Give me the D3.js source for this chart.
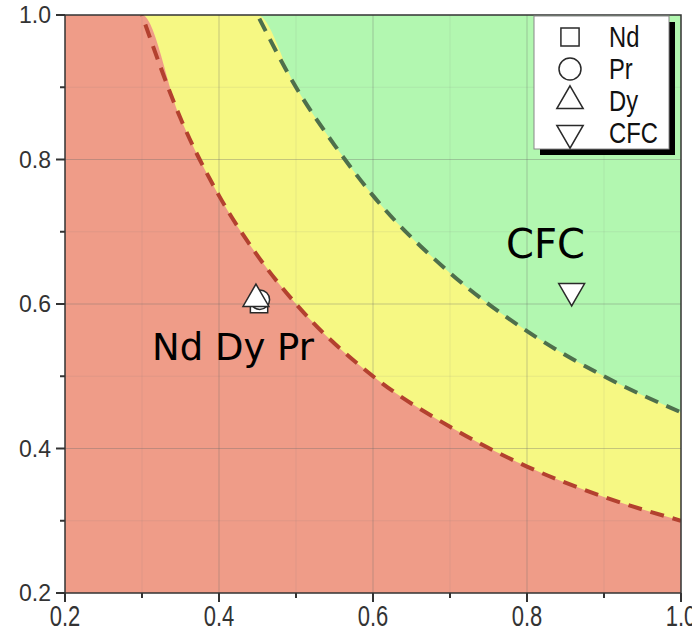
<!DOCTYPE html>
<html>
<head>
<meta charset="utf-8">
<script src="https://cdn.jsdelivr.net/npm/d3@7"></script>
<style>
  body { margin: 0; background: #fff; }
  svg { display: block; }
</style>
</head>
<body>
<div id="chart"></div>
<script>
// boundary curves
const redEdgeX = [0.30, 0.35, 0.40, 0.45, 0.50, 0.60, 0.70, 0.80, 0.90, 1.00]
const redEdgeY = [1.00, 0.857, 0.75, 0.667, 0.60, 0.50, 0.43, 0.375, 0.333, 0.30]
const greenEdgeX = [0.45, 0.50, 0.55, 0.60, 0.70, 0.80, 0.90, 1.00]
const greenEdgeY = [1.00, 0.90, 0.82, 0.75, 0.643, 0.5625, 0.50, 0.45]

// points
const pointNames = ['Nd', 'Pr', 'Dy', 'CFC']
const pointX = [0.452, 0.453, 0.448, 0.858]
const pointY = [0.600, 0.606, 0.607, 0.618]
const pointSymbols = [d3.symbolSquare, d3.symbolCircle, d3.symbolTriangle, d3.symbolTriangle]

const majorTicks = [0.2, 0.4, 0.6, 0.8, 1.0]
const minorTicks = [0.3, 0.5, 0.7, 0.9]

const width = 692, height = 632
const margin = { left: 65, right: 11, top: 15, bottom: 39 }

const svg = d3.select('#chart').append('svg')
    .attr('width', width)
    .attr('height', height)

const x = d3.scaleLinear().domain([0.2, 1.0]).range([margin.left, width - margin.right])
const y = d3.scaleLinear().domain([0.2, 1.0]).range([height - margin.bottom, margin.top])

svg.append('defs').append('clipPath').attr('id', 'plotclip')
    .append('rect')
    .attr('x', x(0.2)).attr('y', y(1.0))
    .attr('width', x(1.0) - x(0.2)).attr('height', y(0.2) - y(1.0))

const plot = svg.append('g').attr('clip-path', 'url(#plotclip)')

// green background
plot.append('rect')
    .attr('x', x(0.2)).attr('y', y(1.0))
    .attr('width', x(1.0) - x(0.2)).attr('height', y(0.2) - y(1.0))
    .attr('fill', '#b2f7b0')

const redEdge = redEdgeX.map((d, i) => [d, redEdgeY[i]])
const greenEdge = greenEdgeX.map((d, i) => [d, greenEdgeY[i]])

const area = d3.area()
    .x(d => x(d[0]))
    .y0(y(0.2))
    .y1(d => y(d[1]))
    .curve(d3.curveMonotoneX)

// yellow under the green edge, red under the red edge
plot.append('path')
    .datum([[0.2, 1.0]].concat(greenEdge))
    .attr('d', area)
    .attr('fill', '#f6f883')

plot.append('path')
    .datum([[0.2, 1.0]].concat(redEdge))
    .attr('d', area)
    .attr('fill', '#ef9c88')

// grid
plot.selectAll('.minor-grid-x')
    .data(minorTicks).enter().append('line')
    .attr('x1', d => x(d)).attr('x2', d => x(d))
    .attr('y1', y(0.2)).attr('y2', y(1.0))
    .attr('stroke', '#7a7a7a').attr('stroke-opacity', 0.12)
plot.selectAll('.minor-grid-y')
    .data(minorTicks).enter().append('line')
    .attr('y1', d => y(d)).attr('y2', d => y(d))
    .attr('x1', x(0.2)).attr('x2', x(1.0))
    .attr('stroke', '#7a7a7a').attr('stroke-opacity', 0.12)
plot.selectAll('.grid-x')
    .data(majorTicks.slice(1, 4)).enter().append('line')
    .attr('x1', d => x(d)).attr('x2', d => x(d))
    .attr('y1', y(0.2)).attr('y2', y(1.0))
    .attr('stroke', '#6a6a6a').attr('stroke-opacity', 0.35)
plot.selectAll('.grid-y')
    .data(majorTicks.slice(1, 4)).enter().append('line')
    .attr('y1', d => y(d)).attr('y2', d => y(d))
    .attr('x1', x(0.2)).attr('x2', x(1.0))
    .attr('stroke', '#6a6a6a').attr('stroke-opacity', 0.35)

// dashed edges
const line = d3.line()
    .x(d => x(d[0]))
    .y(d => y(d[1]))
    .curve(d3.curveMonotoneX)

plot.append('path')
    .datum(redEdge)
    .attr('d', line)
    .attr('fill', 'none')
    .attr('stroke', '#b3412f')
    .attr('stroke-width', 4)
    .attr('stroke-dasharray', '14,9')
    .attr('stroke-dashoffset', -10)

plot.append('path')
    .datum(greenEdge)
    .attr('d', line)
    .attr('fill', 'none')
    .attr('stroke', '#4e6f4c')
    .attr('stroke-width', 4)
    .attr('stroke-dasharray', '14,9')
    .attr('stroke-dashoffset', -4)

// markers
const symbolSizes = [300, 300, 290, 290]
const markerOrder = [0, 1, 2, 3]
svg.selectAll('.marker')
    .data(markerOrder).enter().append('path')
    .attr('class', 'marker')
    .attr('d', i => d3.symbol().type(pointSymbols[i]).size(symbolSizes[i])())
    .attr('transform', i => `translate(${x(pointX[i])},${y(pointY[i])})` + (i == 3 ? ' rotate(180)' : ''))
    .attr('fill', '#fff')
    .attr('stroke', '#2a2a2a')
    .attr('stroke-width', 1.5)

// annotations
svg.append('text')
    .attr('x', 152).attr('y', 360)
    .attr('font-family', 'DejaVu Sans')
    .attr('font-size', 37)
    .attr('fill', '#000')
    .text('Nd Dy Pr')

svg.append('text')
    .attr('x', 506).attr('y', 258)
    .attr('font-family', 'DejaVu Sans')
    .attr('font-size', 40)
    .attr('fill', '#000')
    .text('CFC')

// frame
svg.append('rect')
    .attr('x', x(0.2)).attr('y', y(1.0))
    .attr('width', x(1.0) - x(0.2)).attr('height', y(0.2) - y(1.0))
    .attr('fill', 'none')
    .attr('stroke', '#333')
    .attr('stroke-width', 1.5)

// axes
const xAxis = svg.append('g').attr('transform', `translate(0,${y(0.2)})`)
xAxis.selectAll('.major')
    .data(majorTicks).enter().append('line')
    .attr('x1', d => x(d)).attr('x2', d => x(d))
    .attr('y1', 0).attr('y2', 9)
    .attr('stroke', '#333').attr('stroke-width', 2)
xAxis.selectAll('.minor')
    .data(minorTicks).enter().append('line')
    .attr('x1', d => x(d)).attr('x2', d => x(d))
    .attr('y1', 0).attr('y2', 5)
    .attr('stroke', '#333').attr('stroke-width', 2)
xAxis.selectAll('text')
    .data(majorTicks).enter().append('text')
    .attr('transform', d => `translate(${x(d)},33) scale(1,1.3)`)
    .attr('text-anchor', 'middle')
    .attr('font-family', 'Liberation Sans, Arial')
    .attr('font-size', 22)
    .attr('fill', '#333')
    .text(d => d.toFixed(1))

const yAxis = svg.append('g').attr('transform', `translate(${x(0.2)},0)`)
yAxis.selectAll('.major')
    .data(majorTicks).enter().append('line')
    .attr('y1', d => y(d)).attr('y2', d => y(d))
    .attr('x1', 0).attr('x2', -9)
    .attr('stroke', '#333').attr('stroke-width', 2)
yAxis.selectAll('.minor')
    .data(minorTicks).enter().append('line')
    .attr('y1', d => y(d)).attr('y2', d => y(d))
    .attr('x1', 0).attr('x2', -5)
    .attr('stroke', '#333').attr('stroke-width', 2)
yAxis.selectAll('text')
    .data(majorTicks).enter().append('text')
    .attr('x', -14)
    .attr('y', d => y(d))
    .attr('dy', '0.36em')
    .attr('text-anchor', 'end')
    .attr('font-family', 'Liberation Sans, Arial')
    .attr('font-size', 23)
    .attr('fill', '#333')
    .text(d => d.toFixed(1))

// legend
const legend = svg.append('g').attr('transform', 'translate(534,16)')
legend.append('rect')
    .attr('x', 6).attr('y', 6)
    .attr('width', 135).attr('height', 133)
    .attr('fill', '#000')
legend.append('rect')
    .attr('x', 0).attr('y', 0)
    .attr('width', 135).attr('height', 133)
    .attr('fill', '#fff')
    .attr('stroke', '#888')
    .attr('stroke-width', 1)

const legendSizes = [330, 380, 300, 300]
const rows = legend.selectAll('.row')
    .data(markerOrder).enter().append('g')
    .attr('transform', i => `translate(0,${21 + i * 32})`)
rows.append('path')
    .attr('d', i => d3.symbol().type(pointSymbols[i]).size(legendSizes[i])())
    .attr('transform', i => 'translate(36,0)' + (i == 3 ? ' rotate(180)' : ''))
    .attr('fill', '#fff')
    .attr('stroke', '#2a2a2a')
    .attr('stroke-width', 1.5)
rows.append('text')
    .attr('transform', 'translate(75,10) scale(0.82,1)')
    .attr('font-family', 'Liberation Sans, Arial')
    .attr('font-size', 29)
    .attr('fill', '#111')
    .text(i => pointNames[i])
</script>
</body>
</html>
